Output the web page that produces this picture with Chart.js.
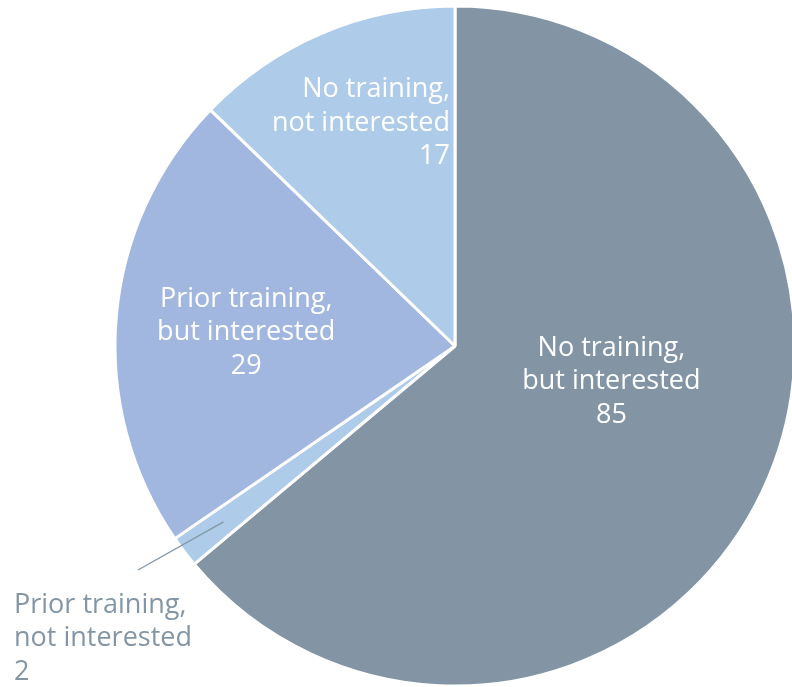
<!DOCTYPE html>
<html>
<head>
<meta charset="utf-8">
<script src="https://cdn.jsdelivr.net/npm/chart.js@4/dist/chart.umd.min.js"></script>
<style>
  html, body { margin: 0; padding: 0; background: #fff; }
  #wrap { width: 792px; height: 687px; position: relative; }
</style>
</head>
<body>
<div id="wrap"><canvas id="chart"></canvas></div>
<script>
const categories = [
  'No training, but interested',
  'Prior training, not interested',
  'Prior training, but interested',
  'No training, not interested'
];
const values = [85, 2, 29, 17];
const labelLines = [
  ['No training,', 'but interested'],
  ['Prior training,', 'not interested'],
  ['Prior training,', 'but interested'],
  ['No training,', 'not interested']
];

const colors = ['#8395a4', '#aecce9', '#a2b7df', '#aecce9'];

// where each label sits, relative to the slice centre and radius
const labelStyle = [
  { fx: 0.46, fy: 0.105, align: 'center', color: '#fff', inside: true },
  { x: 14, y: 605, align: 'left', color: '#8496a5', inside: false },
  { fx: -0.614, fy: -0.04, align: 'center', color: '#fff', inside: true },
  { fx: -0.015, fy: -0.655, align: 'right', color: '#fff', inside: true }
];

const FONT = '27px "Open Sans", "Noto Sans", sans-serif';
const LINE_H = 33.5;

const sliceLabels = {
  id: 'sliceLabels',
  afterDatasetsDraw(chart) {
    const ctx = chart.ctx;
    const meta = chart.getDatasetMeta(0);
    ctx.save();
    ctx.font = FONT;
    ctx.textBaseline = 'middle';
    meta.data.forEach((arc, i) => {
      const st = labelStyle[i];
      const lines = labelLines[i].concat([String(values[i])]);
      const r = arc.outerRadius;
      let x, y;
      if (st.inside) {
        x = arc.x + r * st.fx;
        y = arc.y + r * st.fy - LINE_H;
      } else {
        // leader line from inside the thin slice out to the label
        const mid = (arc.startAngle + arc.endAngle) / 2;
        const x1 = arc.x + Math.cos(mid) * r * 0.855;
        const y1 = arc.y + Math.sin(mid) * r * 0.855;
        ctx.strokeStyle = st.color;
        ctx.lineWidth = 1.3;
        ctx.beginPath();
        ctx.moveTo(x1, y1);
        ctx.lineTo(138, 570);
        ctx.stroke();
        x = st.x;
        y = st.y;
      }
      ctx.fillStyle = st.color;
      ctx.textAlign = st.align;
      lines.forEach((t, k) => ctx.fillText(t, x, y + k * LINE_H));
    });
    ctx.restore();
  }
};

new Chart(document.getElementById('chart'), {
  type: 'pie',
  data: {
    labels: categories,
    datasets: [{
      data: values,
      backgroundColor: colors,
      borderColor: '#ffffff',
      borderWidth: 3,
      radius: 340
    }]
  },
  options: {
    responsive: true,
    maintainAspectRatio: false,
    animation: false,
    layout: { padding: { left: 118, right: 0, top: 5, bottom: 0 } },
    plugins: {
      legend: { display: false },
      tooltip: { enabled: false }
    }
  },
  plugins: [sliceLabels]
});
</script>
</body>
</html>
